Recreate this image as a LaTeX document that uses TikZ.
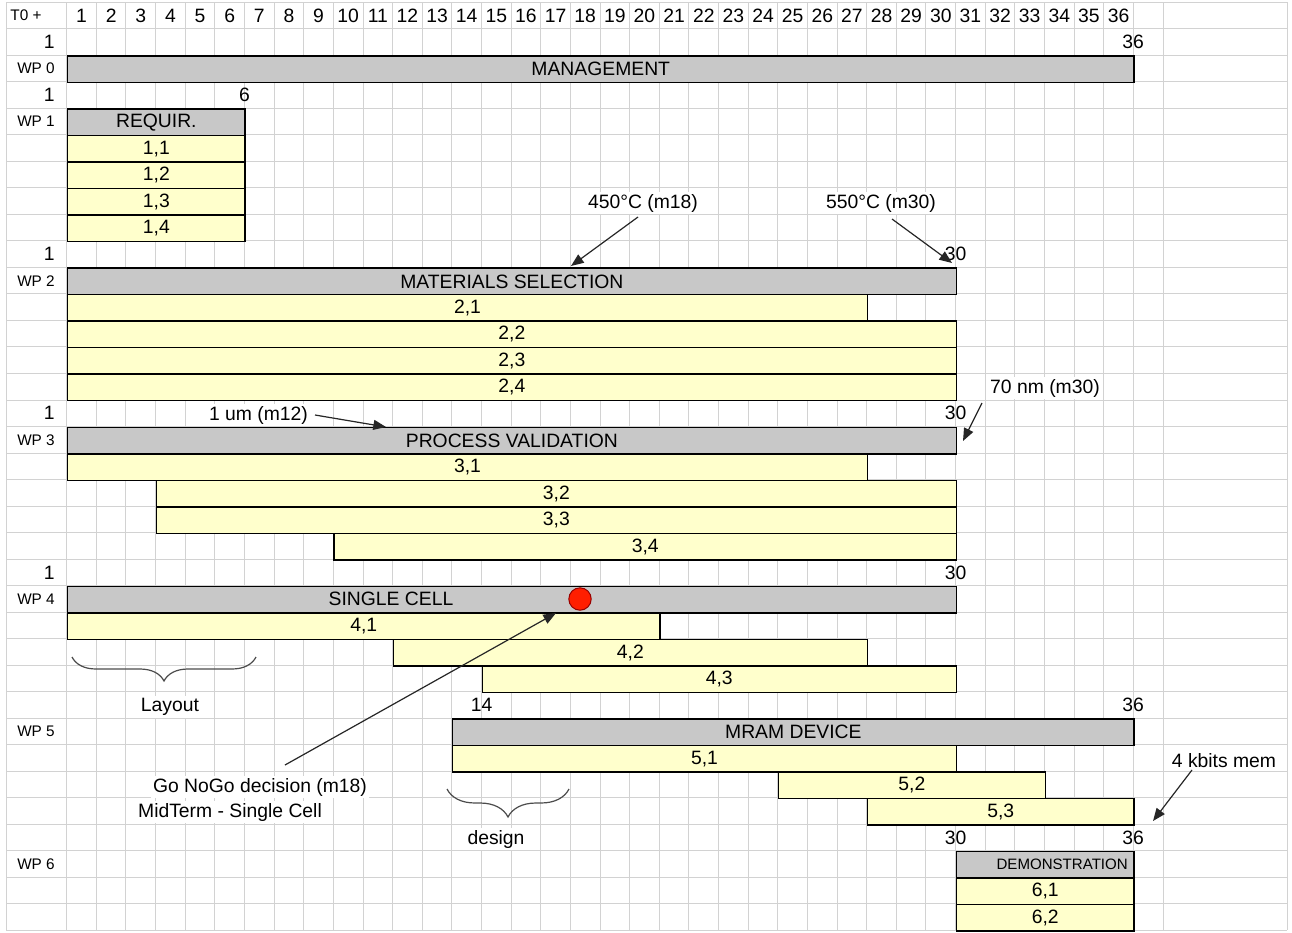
\documentclass[tikz,border=0pt]{standalone}
\usepackage{fontspec}
\setmainfont{Liberation Sans}
\usetikzlibrary{arrows.meta,decorations.pathreplacing}
\definecolor{gridc}{RGB}{210,210,210}
\definecolor{barg}{RGB}{200,200,200}
\definecolor{bary}{RGB}{255,255,204}
\definecolor{dotred}{RGB}{255,30,0}
\definecolor{dotedge}{RGB}{150,0,0}
\newcommand\rc[1]{(2.2+(#1+0.5)*26.52)}
\newcommand\mkbar[6]{%
  \pgfmathsetmacro\bL{66.7+(#3-1)*29.63}%
  \pgfmathsetmacro\bW{(#4-#3+1)*29.63*0.75}%
  \pgfmathsetmacro\bT{2.2+#5*26.52}%
  \node[#2, minimum width=\bW pt, minimum height=19.89pt] (#1) at (\bL,\bT) {};%
  \node[bartext] (#1t) at (#1.center) {#6};%
}
\tikzset{
  every node/.style={font=\fontsize{14.5}{16}\selectfont, inner sep=0pt},
  gridline/.style={draw=gridc, line width=0.75pt},
  grayb/.style={draw=black, line width=1.1pt, fill=barg, rectangle, anchor=north west},
  yelb/.style={draw=black, line width=1.1pt, fill=bary, rectangle, anchor=north west},
  bartext/.style={},
  wplab/.style={font=\fontsize{11.5}{13}\selectfont},
  note/.style={fill=white, inner sep=1.5pt},
  arr/.style={-{Triangle[length=9.5pt,width=7.5pt]}, line width=0.9pt, draw=black!85},
  brc/.style={decorate, decoration={brace, amplitude=#1, mirror}, line width=0.9pt, draw=black!70},
}
\begin{document}
\begin{tikzpicture}[x=0.75pt, y=-0.75pt]
\useasboundingbox (0,0) rectangle (1292,932);
\fill[white] (0,0) rectangle (1292,932);
% grid
\foreach \i in {0,...,35} \draw[gridline] (6,{2.2+\i*26.52}) -- (1287,{2.2+\i*26.52});
\foreach \k in {0,...,37} \draw[gridline] ({66.7+\k*29.63},2.2) -- ({66.7+\k*29.63},930.4);
\draw[gridline] (6,2.2) -- (6,930.4);
\draw[gridline] (1287,2.2) -- (1287,930.4);
% header
\node[wplab] (t0) at (26,{\rc{0}}) {T0 +};
\foreach \k in {1,...,36} \node (h\k) at ({66.7+(\k-0.5)*29.63},{\rc{0}}) {\k};
% row labels
\node[wplab] (wp0) at (36,{\rc{2}}) {WP 0};
\node[wplab] (wp1) at (36,{\rc{4}}) {WP 1};
\node[wplab] (wp2) at (36,{\rc{10}}) {WP 2};
\node[wplab] (wp3) at (36,{\rc{16}}) {WP 3};
\node[wplab] (wp4) at (36,{\rc{22}}) {WP 4};
\node[wplab] (wp5) at (36,{\rc{27}}) {WP 5};
\node[wplab] (wp6) at (36,{\rc{32}}) {WP 6};
% start / end numbers
\node[anchor=east] (s0) at (55,{\rc{1}}) {1};
\node (e0) at (1133,{\rc{1}}) {36};
\node[anchor=east] (s1) at (55,{\rc{3}}) {1};
\node (e1) at (244.5,{\rc{3}}) {6};
\node[anchor=east] (s2) at (55,{\rc{9}}) {1};
\node (e2) at (955.6,{\rc{9}}) {30};
\node[anchor=east] (s3) at (55,{\rc{15}}) {1};
\node (e3) at (955.6,{\rc{15}}) {30};
\node[anchor=east] (s4) at (55,{\rc{21}}) {1};
\node (e4) at (955.6,{\rc{21}}) {30};
\node (s5) at (481.5,{\rc{26}}) {14};
\node (e5) at (1133,{\rc{26}}) {36};
\node (s6) at (955.6,{\rc{31}}) {30};
\node (e6) at (1133,{\rc{31}}) {36};
% WP0
\mkbar{b0}{grayb}{1}{36}{2}{MANAGEMENT}
% WP1
\mkbar{b1}{grayb}{1}{6}{4}{REQUIR.}
\mkbar{b11}{yelb}{1}{6}{5}{1,1}
\mkbar{b12}{yelb}{1}{6}{6}{1,2}
\mkbar{b13}{yelb}{1}{6}{7}{1,3}
\mkbar{b14}{yelb}{1}{6}{8}{1,4}
% WP2
\mkbar{b2}{grayb}{1}{30}{10}{MATERIALS SELECTION}
\mkbar{b21}{yelb}{1}{27}{11}{2,1}
\mkbar{b22}{yelb}{1}{30}{12}{2,2}
\mkbar{b23}{yelb}{1}{30}{13}{2,3}
\mkbar{b24}{yelb}{1}{30}{14}{2,4}
% WP3
\mkbar{b3}{grayb}{1}{30}{16}{PROCESS VALIDATION}
\mkbar{b31}{yelb}{1}{27}{17}{3,1}
\mkbar{b32}{yelb}{4}{30}{18}{3,2}
\mkbar{b33}{yelb}{4}{30}{19}{3,3}
\mkbar{b34}{yelb}{10}{30}{20}{3,4}
% WP4
\mkbar{b4}{grayb}{1}{30}{22}{}
\node (b4x) at (391,{\rc{22}}) {SINGLE CELL};
\mkbar{b41}{yelb}{1}{20}{23}{4,1}
\mkbar{b42}{yelb}{12}{27}{24}{4,2}
\mkbar{b43}{yelb}{15}{30}{25}{4,3}
% WP5
\mkbar{b5}{grayb}{14}{36}{27}{MRAM DEVICE}
\mkbar{b51}{yelb}{14}{30}{28}{5,1}
\mkbar{b52}{yelb}{25}{33}{29}{5,2}
\mkbar{b53}{yelb}{28}{36}{30}{5,3}
% WP6
\mkbar{b6}{grayb}{31}{36}{32}{}
\node[anchor=east, font=\fontsize{11.3}{13}\selectfont] (b6x) at (1128,{\rc{32}}) {DEMONSTRATION};
\mkbar{b61}{yelb}{31}{36}{33}{6,1}
\mkbar{b62}{yelb}{31}{36}{34}{6,2}
% milestone dot
\node[circle, draw=dotedge, fill=dotred, line width=0.75pt, minimum size=16.8pt] (dot) at (580,599) {};
% annotations
\node[note] (n450) at (643,203) {450°C (m18)};
\node[note] (n550) at (881,203) {550°C (m30)};
\node[note] (n1um) at (258.5,415) {1 um (m12)};
\node[note] (n70) at (1045,388) {70 nm (m30)};
\node[note] (n4k) at (1224,761) {4 kbits mem};
\node[note] (ngo) at (260,787) {Go NoGo decision (m18)};
\node[note] (nmid) at (230,812) {MidTerm - Single Cell};
\node[note] (nlay) at (170,707) {Layout};
\node[note] (ndes) at (496,839) {design};
% arrow end points
\coordinate (a1s) at (638,217); \coordinate (a1e) at (571,266);
\coordinate (a2s) at (892,219); \coordinate (a2e) at (952,263);
\coordinate (a3s) at (315,415); \coordinate (a3e) at (386,427);
\coordinate (a4s) at (982,403); \coordinate (a4e) at (963,441);
\coordinate (a5s) at (1192,770); \coordinate (a5e) at (1153,821);
\coordinate (a6s) at (285,765); \coordinate (a6e) at (556,613);
\draw[arr] (a1s) -- (a1e);
\draw[arr] (a2s) -- (a2e);
\draw[arr] (a3s) -- (a3e);
\draw[arr] (a4s) -- (a4e);
\draw[arr] (a5s) -- (a5e);
\draw[arr] (a6s) -- (a6e);
% braces
\coordinate (l1) at (72,657); \coordinate (l2) at (256,657);
\coordinate (d1) at (447,789); \coordinate (d2) at (569,789);
\draw[brc=18pt] (l1) -- (l2);
\draw[brc=21pt] (d1) -- (d2);
\end{tikzpicture}
\end{document}
